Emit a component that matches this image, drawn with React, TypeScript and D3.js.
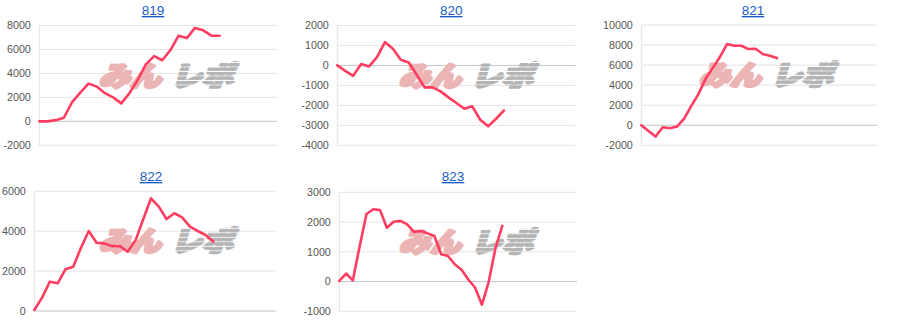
import React from "react";
import * as d3 from "d3";

const titles = ["819", "820", "821", "822", "823"];

const s819 = [0, 0, 100, 300, 1600, 2400, 3150, 2900, 2350, 2000, 1500, 2350, 3450, 4750, 5450, 5100, 5950, 7150, 6950, 7800, 7600, 7150, 7150];
const s820 = [0, -270, -520, 70, -50, 420, 1170, 830, 280, 150, -470, -1100, -1100, -1300, -1600, -1880, -2170, -2050, -2720, -3050, -2670, -2250];
const s821 = [0, -570, -1130, -200, -300, -130, 670, 1930, 3100, 4630, 5700, 6800, 8100, 7930, 7930, 7600, 7630, 7100, 6930, 6700];
const s822 = [50, 670, 1470, 1390, 2090, 2220, 3170, 4010, 3420, 3390, 3250, 3250, 2970, 3530, 4600, 5650, 5230, 4610, 4900, 4690, 4230, 4010, 3810, 3480];
const s823 = [20, 270, 40, 1190, 2270, 2430, 2400, 1810, 2010, 2040, 1920, 1670, 1700, 1620, 1530, 920, 860, 580, 400, 70, -210, -780, -10, 1130, 1870];

const seriesList = [s819, s820, s821, s822, s823];
const yDomains: [number, number][] = [[-2000, 8000], [-4000, 2000], [-2000, 10000], [0, 6000], [-1000, 3000]];
const yTicks = [
  [-2000, 0, 2000, 4000, 6000, 8000],
  [-4000, -3000, -2000, -1000, 0, 1000, 2000],
  [-2000, 0, 2000, 4000, 6000, 8000, 10000],
  [0, 2000, 4000, 6000],
  [-1000, 0, 1000, 2000, 3000],
];
const xSlots = [29, 30, 33, 31, 35];

const layout = [
  { ox: 0, left: 39.3, right: 277, top: 25.5, bottom: 145.3, tx: 153, ty: 15 },
  { ox: 300, left: 337.3, right: 575.5, top: 25.5, bottom: 145.3, tx: 451.3, ty: 15 },
  { ox: 600, left: 641.3, right: 877, top: 25, bottom: 145.3, tx: 753, ty: 15 },
  { ox: 0, left: 34.3, right: 275.5, top: 191.3, bottom: 311, tx: 151, ty: 181 },
  { ox: 300, left: 339.3, right: 577, top: 192.3, bottom: 311.3, tx: 453, ty: 181 },
];

const FONT = "Arial, 'Liberation Sans', sans-serif";
const JP = "'Noto Sans CJK JP', sans-serif";

function Panel({ idx }: { idx: number }) {
  const L = layout[idx];
  const data = seriesList[idx];
  const x = d3.scaleLinear().domain([0, xSlots[idx]]).range([L.left, L.right]);
  const y = d3.scaleLinear().domain(yDomains[idx]).range([L.bottom, L.top]);
  const line = d3
    .line<number>()
    .x((_, i) => x(i))
    .y((d) => y(d));
  const logoX = L.ox + 91;
  const logoY = L.top + 38;
  return (
    <g>
      <text x={L.tx} y={L.ty} textAnchor="middle" fontFamily={FONT} fontSize={13.5} fill="#1a5dc8" textDecoration="underline">
        {titles[idx]}
      </text>
      {yTicks[idx].map((t) => (
        <g key={t}>
          <line x1={L.left} x2={L.right} y1={y(t)} y2={y(t)} stroke={t === 0 ? "#c4c4c4" : "#e4e4e4"} strokeWidth={1} />
          <text x={L.left - 8.5} y={y(t)} dy="0.36em" textAnchor="end" fontFamily={FONT} fontSize={10.7} fill="#555">
            {t}
          </text>
        </g>
      ))}
      <line x1={L.left} x2={L.left} y1={L.top} y2={L.bottom} stroke="#e4e4e4" strokeWidth={1} />
      <g transform={`translate(${logoX},${logoY + 22}) skewX(-16)`}>
        <text x={8} y={0} fontFamily={JP} fontWeight={900} fontSize={27} fill="#ebb5b5" stroke="#ebb5b5" strokeWidth={3.2} strokeLinejoin="round" textLength={62} lengthAdjust="spacingAndGlyphs">
          みん
        </text>
        <text x={80} y={0} fontFamily={JP} fontWeight={900} fontSize={27} fill="url(#stripes)" stroke="url(#stripes)" strokeWidth={3.2} strokeLinejoin="round" textLength={62} lengthAdjust="spacingAndGlyphs">
          レポ
        </text>
      </g>
      <path d={line(data) || ""} fill="none" stroke="#ff3d60" strokeWidth={2.6} strokeLinejoin="round" strokeLinecap="round" />
    </g>
  );
}

export default function App() {
  return (
    <svg width={900} height={332} style={{ position: "absolute", left: 0, top: 0, background: "#fff" }}>
      <defs>
        <pattern id="stripes" patternUnits="userSpaceOnUse" width={8} height={4.5}>
          <rect x={0} y={0} width={8} height={3.4} fill="#b4b4b4" />
        </pattern>
      </defs>
      {layout.map((_, i) => (
        <Panel key={i} idx={i} />
      ))}
    </svg>
  );
}
